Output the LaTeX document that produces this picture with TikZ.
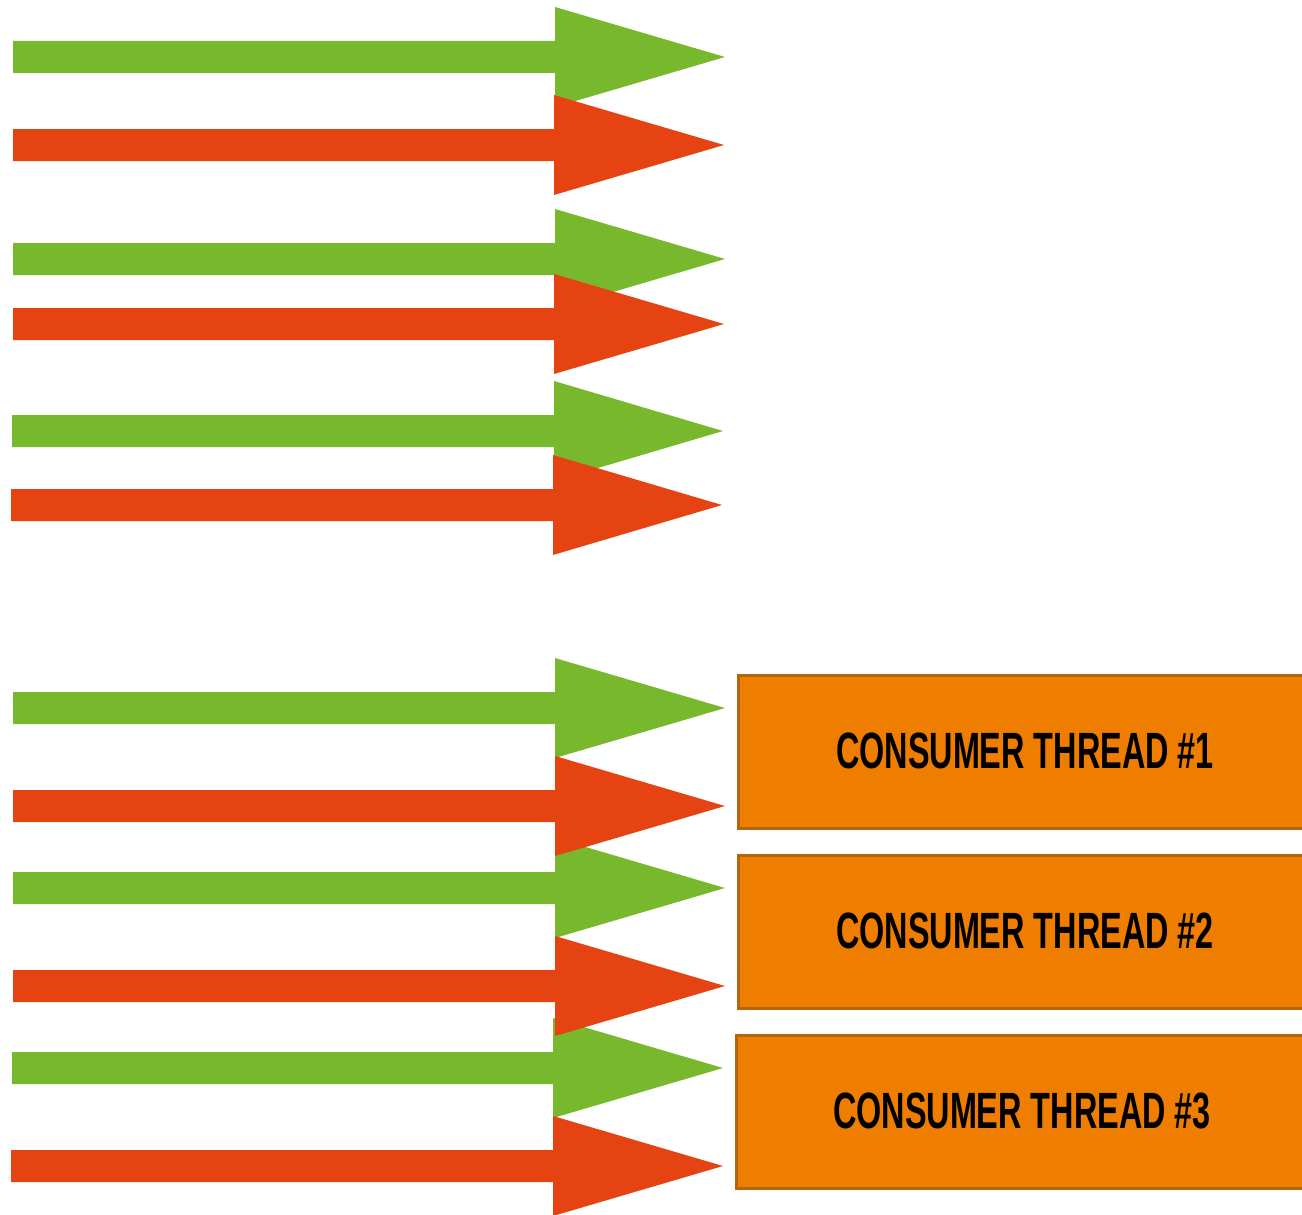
\documentclass[tikz,border=0pt]{standalone}
\usepackage{fontspec}
\setmainfont{Liberation Sans}[FakeStretch=0.635]
\definecolor{flowgreen}{HTML}{77B82C}
\definecolor{flowred}{HTML}{E64312}
\definecolor{threadfill}{HTML}{EF7D00}
\definecolor{threadedge}{HTML}{B5650F}
\tikzset{
  flowgreenarrow/.style={fill=flowgreen, draw=none},
  flowredarrow/.style={fill=flowred, draw=none},
  threadbox/.style={fill=threadfill, draw=threadedge, line width=2.5pt,
    minimum width=575pt, minimum height=153pt, anchor=north west, inner sep=0pt},
  threadlabel/.style={font=\fontsize{51}{51}\selectfont\bfseries, text=black}
}
% \flowarrow{style}{x start}{x head base}{x tip}{y centre}
\newcommand{\flowarrow}[5]{%
  \fill[#1] (#2,#5-16) -- (#3,#5-16) -- (#3,#5-50) -- (#4,#5)
    -- (#3,#5+50) -- (#3,#5+16) -- (#2,#5+16) -- cycle;}
\begin{document}
\begin{tikzpicture}[x=1pt,y=-1pt]
  \useasboundingbox (0,0) rectangle (1302,1215);
  \clip (0,0) rectangle (1302,1215);
  % green message streams
  \flowarrow{flowgreenarrow}{13}{555}{725}{57}
  \flowarrow{flowgreenarrow}{13}{555}{725}{259}
  \flowarrow{flowgreenarrow}{12}{554}{723}{431}
  \flowarrow{flowgreenarrow}{13}{555}{725}{708}
  \flowarrow{flowgreenarrow}{13}{555}{725}{888}
  \flowarrow{flowgreenarrow}{12}{553}{723}{1068}
  % red message streams
  \flowarrow{flowredarrow}{13}{554}{724}{145}
  \flowarrow{flowredarrow}{13}{554}{724}{324}
  \flowarrow{flowredarrow}{11}{553}{722}{505}
  \flowarrow{flowredarrow}{13}{555}{725}{806}
  \flowarrow{flowredarrow}{13}{555}{725}{986}
  \flowarrow{flowredarrow}{11}{553}{723}{1166}
  % consumer threads
  \node[threadbox] (t1) at (737,674) {};
  \node[threadbox] (t2) at (737,854) {};
  \node[threadbox] (t3) at (735,1034) {};
  \node[threadlabel] (l1) at (1025,751) {CONSUMER THREAD \#1};
  \node[threadlabel] (l2) at (1025,931) {CONSUMER THREAD \#2};
  \node[threadlabel] (l3) at (1022,1111) {CONSUMER THREAD \#3};
\end{tikzpicture}
\end{document}
